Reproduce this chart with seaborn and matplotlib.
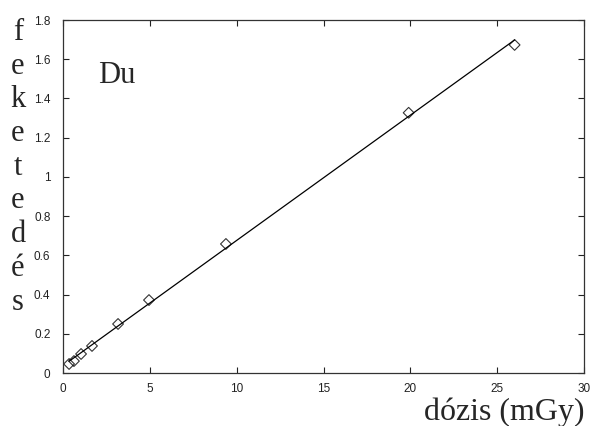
import numpy as np
import pandas as pd
import matplotlib
matplotlib.use("Agg")
import matplotlib.pyplot as plt
import seaborn as sns

# dose (mGy) vs blackening
dozis = [0.35, 0.63, 1.04, 1.67, 3.17, 4.95, 9.38, 19.9, 26.0]
feketedes = [0.046, 0.061, 0.097, 0.138, 0.25, 0.372, 0.658, 1.327, 1.673]
x_ticks = [0, 5, 10, 15, 20, 25, 30]
y_ticks = [0, 0.2, 0.4, 0.6, 0.8, 1, 1.2, 1.4, 1.6, 1.8]
y_ticklabels = ["0", "0.2", "0.4", "0.6", "0.8", "1", "1.2", "1.4", "1.6", "1.8"]
ylabel_letters = ["f", "e", "k", "e", "t", "e", "d", "é", "s"]

df = pd.DataFrame({"dozis": dozis, "feketedes": feketedes})

sns.set_style("ticks")
plt.rcParams["font.family"] = ["Liberation Sans", "DejaVu Sans"]

fig = plt.figure(figsize=(5.96, 4.26), dpi=100)
ax = fig.add_axes([0.1057, 0.1244, 0.8743, 0.8286])

sns.regplot(data=df, x="dozis", y="feketedes", ax=ax, ci=None, marker="D",
            scatter_kws=dict(s=30, facecolors="none", edgecolors="black", linewidths=0.8),
            line_kws=dict(color="black", lw=0.9))

ax.set_xlim(0, 30)
ax.set_ylim(0, 1.8)
ax.set_xticks(x_ticks)
ax.set_xticklabels([str(t) for t in x_ticks])
ax.set_yticks(y_ticks)
ax.set_yticklabels(y_ticklabels)
ax.tick_params(direction="in", length=4, width=0.8, labelsize=8.5,
               top=True, right=True, colors="#222222")
ax.tick_params(axis="y", pad=9)
ax.tick_params(axis="x", pad=7)
for s in ax.spines.values():
    s.set_linewidth(0.9)
    s.set_color("#333333")
ax.set_xlabel("")
ax.set_ylabel("")

serif = ["Liberation Serif", "DejaVu Serif"]
ax.text(3.1, 1.48, "Du", fontsize=22, family=serif, ha="center", va="baseline")
fig.text(504 / 596, 1 - 420 / 426, "dózis (mGy)", fontsize=23, family=serif,
         ha="center", va="baseline")
# stacked letters of the y label, one per line
for i, ch in enumerate(ylabel_letters):
    fig.text(18 / 596, 1 - (40 + 33.7 * i) / 426, ch, fontsize=22,
             family=serif, ha="center", va="baseline")

fig.savefig("out.png", dpi=100)
